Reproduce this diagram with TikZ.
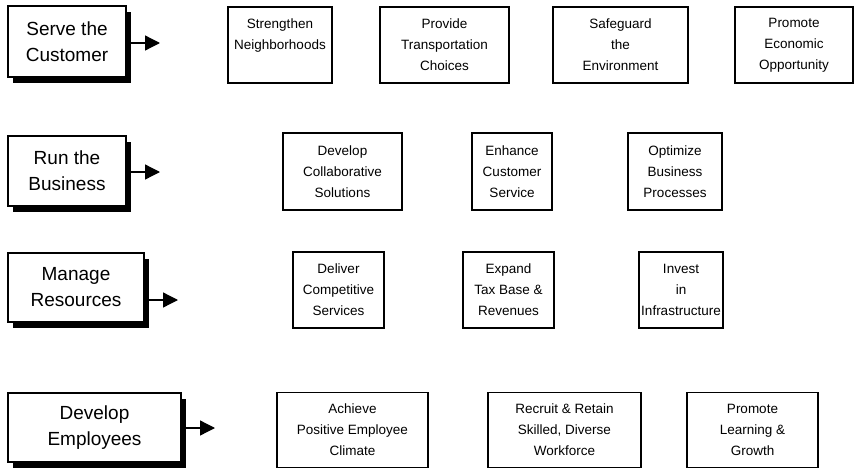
\documentclass[tikz,border=0pt]{standalone}
\usepackage{fontspec}
\setmainfont{Liberation Sans}
\usetikzlibrary{arrows.meta,shadows}

\begin{document}
\begin{tikzpicture}[x=1pt,y=-1pt,
    area/.style={draw,line width=1.2pt,fill=white,inner sep=2pt,align=center,
        font=\fontsize{19}{26}\selectfont,
        drop shadow={shadow xshift=5pt,shadow yshift=-6pt,fill=black,opacity=1}},
    goal/.style={draw,line width=1.3pt,inner sep=2pt,align=center,
        font=\fontsize{13.5}{21}\selectfont},
    lead/.style={line width=1.3pt,-{Triangle[length=15pt,width=15pt]}}]
                \useasboundingbox (0,0) rectangle (865,471);

                \node[area,minimum width=118pt,minimum height=71pt] (serve) at (67,41.5) {Serve the\\Customer};
                \node[area,minimum width=118pt,minimum height=70pt] (run) at (67,171) {Run the\\Business};
                \node[area,minimum width=136pt,minimum height=69pt] (manage) at (76,287.5) {Manage\\Resources};
                \node[area,minimum width=173pt,minimum height=69pt] (develop) at (94.5,427.5) {Develop\\Employees};

                \coordinate (serve tip) at (160,43);
                \coordinate (run tip) at (160,172);
                \coordinate (manage tip) at (178,300);
                \coordinate (develop tip) at (215,428);

                \draw[lead] (serve.east |- serve tip) -- (serve tip);
                \draw[lead] (run.east |- run tip) -- (run tip);
                \draw[lead] (manage.east |- manage tip) -- (manage tip);
                \draw[lead] (develop.east |- develop tip) -- (develop tip);

                \node[goal,minimum width=104pt,minimum height=76pt] (neighborhoods) at (280,45) {Strengthen\\Neighborhoods\\~};
                \node[goal,minimum width=129pt,minimum height=76pt] (transportation) at (444.5,45) {Provide\\Transportation\\Choices};
                \node[goal,minimum width=135pt,minimum height=76pt] (environment) at (620.5,45) {Safeguard\\the\\Environment};
                \node[goal,minimum width=118pt,minimum height=76pt] (economic) at (794,45) {Promote\\Economic\\Opportunity};

                \node[goal,minimum width=119pt,minimum height=77pt] (collaborative) at (342.5,171.5) {Develop\\Collaborative\\Solutions};
                \node[goal,minimum width=80pt,minimum height=77pt] (customerservice) at (512,171.5) {Enhance\\Customer\\Service};
                \node[goal,minimum width=94pt,minimum height=77pt] (processes) at (675,171.5) {Optimize\\Business\\Processes};

                \node[goal,minimum width=91pt,minimum height=76pt] (competitive) at (338.5,290) {Deliver\\Competitive\\Services};
                \node[goal,minimum width=91pt,minimum height=76pt] (taxbase) at (508.5,290) {Expand\\Tax Base \&\\Revenues};
                \node[goal,minimum width=84pt,minimum height=76pt] (infrastructure) at (681,290) {Invest\\in\\Infrastructure};

                \node[goal,minimum width=151pt,minimum height=75pt] (climate) at (352.5,430) {Achieve\\Positive Employee\\Climate};
                \node[goal,minimum width=153pt,minimum height=75pt] (workforce) at (564.5,430) {Recruit \& Retain\\Skilled, Diverse\\Workforce};
                \node[goal,minimum width=131pt,minimum height=75pt] (learning) at (752.5,430) {Promote\\Learning \&\\Growth};
            \end{tikzpicture}
\end{document}
